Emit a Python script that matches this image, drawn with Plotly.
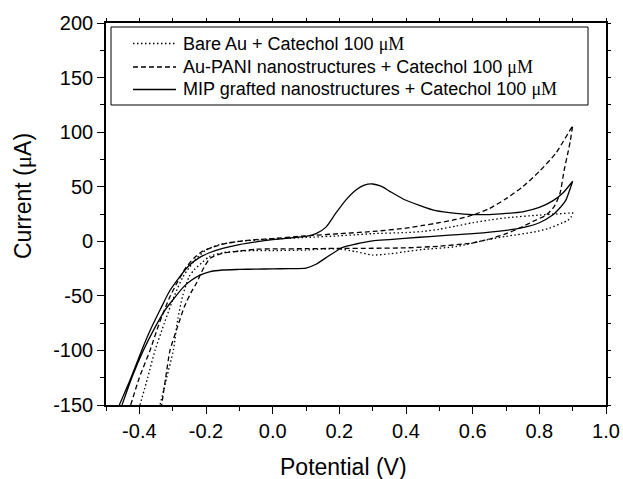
import plotly.graph_objects as go

# ---- data ----
bare_fwd_v = [-0.398, -0.375, -0.353, -0.325, -0.295, -0.270, -0.250, -0.230, -0.200, -0.160, -0.100, 0.000, 0.100, 0.200, 0.250, 0.300, 0.400, 0.450, 0.500, 0.550, 0.600, 0.650, 0.700, 0.800, 0.850, 0.900]
bare_fwd_i = [-150, -125, -100, -75, -50, -33, -24, -16, -8, -3, 0, 2, 3.5, 5, 6, 7, 8, 9, 11, 14, 17, 19.5, 21.5, 24, 25, 26]
bare_rev_v = [0.900, 0.895, 0.885, 0.870, 0.830, 0.790, 0.700, 0.640, 0.550, 0.450, 0.400, 0.350, 0.300, 0.250, 0.200, 0.150, 0.100, 0.000, -0.050, -0.100, -0.150, -0.190, -0.210, -0.235, -0.250, -0.270, -0.285, -0.298, -0.318, -0.338]
bare_rev_i = [26, 22, 19, 17, 12, 8.8, 4.5, 1.2, -4.9, -7.5, -9.5, -11.5, -12.6, -9.5, -7, -7, -8, -8.5, -8.5, -9, -10.5, -14, -19, -26, -32, -50, -72, -100, -125, -150]

pani_fwd_v = [-0.426, -0.400, -0.368, -0.340, -0.310, -0.285, -0.260, -0.235, -0.210, -0.180, -0.150, -0.100, -0.050, 0.000, 0.100, 0.200, 0.300, 0.400, 0.450, 0.500, 0.550, 0.600, 0.650, 0.700, 0.750, 0.800, 0.850, 0.900]
pani_fwd_i = [-150, -125, -100, -75, -52, -37, -24, -15, -9, -5.5, -2.5, 0, 1.5, 2.5, 5, 7, 9, 12, 14.5, 17, 20, 24, 30, 39, 50, 64, 81, 106]
pani_rev_v = [0.900, 0.893, 0.885, 0.875, 0.862, 0.845, 0.820, 0.790, 0.740, 0.700, 0.650, 0.600, 0.500, 0.400, 0.300, 0.200, 0.100, 0.000, -0.050, -0.100, -0.150, -0.188, -0.213, -0.228, -0.245, -0.265, -0.285, -0.308, -0.321, -0.333]
pani_rev_i = [106, 92, 80, 66, 44, 32, 24, 19.5, 12, 7, 2, -1.5, -4.5, -6, -6.4, -6.5, -6.8, -7, -7.3, -9, -11, -15.5, -28, -38, -47, -60, -78, -100, -125, -150]

mip_fwd_v = [-0.460, -0.425, -0.393, -0.365, -0.338, -0.310, -0.280, -0.250, -0.220, -0.190, -0.150, -0.100, -0.050, 0.000, 0.050, 0.100, 0.130, 0.160, 0.190, 0.220, 0.250, 0.275, 0.300, 0.325, 0.350, 0.390, 0.440, 0.490, 0.550, 0.600, 0.650, 0.700, 0.750, 0.800, 0.840, 0.870, 0.900]
mip_fwd_i = [-150, -125, -100, -80, -63, -46, -33, -22, -15, -10.5, -6.5, -3, -0.5, 1.5, 3, 4.5, 7, 13, 26, 38, 47, 51.5, 52.5, 50.5, 46, 39, 33, 28, 25.5, 24.5, 24.5, 25.5, 27, 31, 37, 44, 55]
mip_rev_v = [0.900, 0.890, 0.880, 0.860, 0.840, 0.800, 0.750, 0.700, 0.600, 0.500, 0.440, 0.350, 0.300, 0.250, 0.210, 0.170, 0.130, 0.100, 0.050, 0.000, -0.050, -0.100, -0.150, -0.190, -0.218, -0.245, -0.268, -0.295, -0.323, -0.355, -0.388, -0.420, -0.452]
mip_rev_i = [55, 46, 38, 30, 24, 17, 12.5, 10, 7, 5, 3.7, 1.5, 0.3, -2.5, -5.5, -13, -21, -24.5, -25, -25.3, -25.5, -25.8, -26.3, -28, -31, -36, -42, -52, -63, -80, -100, -123, -150]

x_tickvals = [-0.4, -0.2, 0.0, 0.2, 0.4, 0.6, 0.8, 1.0]
x_ticktext = ["-0.4", "-0.2", "0.0", "0.2", "0.4", "0.6", "0.8", "1.0"]
y_tickvals = [-150, -100, -50, 0, 50, 100, 150, 200]
y_ticktext = ["-150", "-100", "-50", "0", "50", "100", "150", "200"]

SERIF = "font-family:'Liberation Serif'"
unit = "<span style=\"" + SERIF + "\">μM</span>"
names = [
    "Bare Au + Catechol 100 " + unit,
    "Au-PANI nanostructures + Catechol 100 " + unit,
    "MIP grafted nanostructures + Catechol 100 " + unit,
]
dashes = ["1.5px,2.5px", "5px,3px", "solid"]
series = [
    (bare_fwd_v + bare_rev_v, bare_fwd_i + bare_rev_i),
    (pani_fwd_v + pani_rev_v, pani_fwd_i + pani_rev_i),
    (mip_fwd_v + mip_rev_v, mip_fwd_i + mip_rev_i),
]

# plot-area geometry in pixels (used for the boxed legend)
W, H = 623, 479
L, R, T, B = 106, 17, 23, 74
PW, PH = W - L - R, H - T - B


def px(xp):
    return (xp - L) / PW


def py(yp):
    return (H - B - yp) / PH


fig = go.Figure()
for (xv, yv), nm, ds in zip(series, names, dashes):
    fig.add_trace(go.Scatter(x=xv, y=yv, mode="lines", name=nm, showlegend=False,
                             line=dict(color="black", width=1.3, dash=ds,
                                       shape="spline", smoothing=0.6)))
# dummy trace for the mirrored (top/right) tick axes
fig.add_trace(go.Scatter(x=[None], y=[None], xaxis="x2", yaxis="y2",
                         showlegend=False, hoverinfo="skip"))

FONT = "Liberation Sans, Arial, sans-serif"

shapes = [dict(type="rect", xref="paper", yref="paper",
               x0=px(111), x1=px(588), y0=py(105), y1=py(27),
               line=dict(color="black", width=1), fillcolor="white", layer="above")]
annotations = []
rows = [43.5, 67.0, 89.5]
for yr, nm, ds in zip(rows, names, dashes):
    shapes.append(dict(type="line", xref="paper", yref="paper",
                       x0=px(133), x1=px(176), y0=py(yr), y1=py(yr),
                       line=dict(color="black", width=1.3, dash=ds), layer="above"))
    annotations.append(dict(text=nm, xref="paper", yref="paper", x=px(181), y=py(yr),
                            xanchor="left", yanchor="middle", showarrow=False,
                            font=dict(size=18, family=FONT)))

annotations += [
    dict(text="Potential (V)", xref="paper", yref="paper", x=px(343), y=py(467),
         xanchor="center", yanchor="middle", showarrow=False,
         font=dict(size=23, family=FONT)),
    dict(text="Current (<span style=\"" + SERIF + "\">μ</span>A)", xref="paper", yref="paper",
         x=px(23), y=py(196), xanchor="center", yanchor="middle", showarrow=False,
         textangle=-90, font=dict(size=23, family=FONT)),
]

fig.update_layout(
    width=W, height=H,
    margin=dict(l=L, r=R, t=T, b=B, autoexpand=False),
    paper_bgcolor="white", plot_bgcolor="white",
    font=dict(family=FONT, color="black", size=20),
    showlegend=False,
    xaxis=dict(range=[-0.5, 1.0], tickvals=x_tickvals, ticktext=x_ticktext,
               showgrid=False, zeroline=False, showline=True, linecolor="black",
               linewidth=1.6, ticks="outside", ticklen=7, tickwidth=1.4,
               tickcolor="black", tickfont=dict(size=20),
               minor=dict(dtick=0.1, tick0=-0.5, ticks="outside", ticklen=4,
                          tickwidth=1.4, tickcolor="black")),
    yaxis=dict(range=[-150, 200], tickvals=y_tickvals, ticktext=y_ticktext,
               showgrid=False, zeroline=False, showline=True, linecolor="black",
               linewidth=1.6, ticks="outside", ticklen=7, tickwidth=1.4,
               tickcolor="black", tickfont=dict(size=20),
               minor=dict(dtick=25, tick0=-150, ticks="outside", ticklen=4,
                          tickwidth=1.4, tickcolor="black")),
    xaxis2=dict(range=[-0.5, 1.0], overlaying="x", side="top", anchor="y2",
                tick0=-0.5, dtick=0.1, showticklabels=False, showgrid=False,
                zeroline=False, showline=True, linecolor="black", linewidth=1.6,
                ticks="outside", ticklen=3, tickwidth=1.2, tickcolor="black"),
    yaxis2=dict(range=[-150, 200], overlaying="y", side="right", anchor="x2",
                tick0=-150, dtick=25, showticklabels=False, showgrid=False,
                zeroline=False, showline=True, linecolor="black", linewidth=1.6,
                ticks="outside", ticklen=3, tickwidth=1.2, tickcolor="black"),
    shapes=shapes,
    annotations=annotations,
)

fig.write_html("out.html", config={"displayModeBar": False},
               post_script="document.body.style.margin='0';document.body.style.overflow='hidden';")
